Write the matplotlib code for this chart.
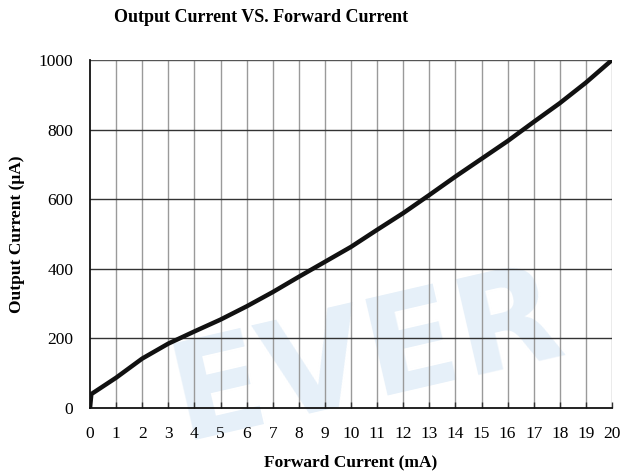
import matplotlib
matplotlib.use("Agg")
import matplotlib.pyplot as plt
import numpy as np

# Data
forward_current_mA = [0, 0.05, 1, 2, 3, 4, 5, 6, 7, 8, 9, 10, 11, 12, 13, 14, 15, 16, 17, 18, 19, 20]
output_current_uA = [0, 40, 87, 142, 185, 220, 254, 292, 333, 377, 420, 463, 512, 560, 612, 665, 716, 767, 822, 876, 935, 1000]
x_ticks = list(range(0, 21))
y_ticks = [0, 200, 400, 600, 800, 1000]

title = "Output Current VS. Forward Current"
xlabel = "Forward Current (mA)"
ylabel = "Output Current (\u03bcA)"

plt.rcParams['font.family'] = ['Liberation Serif', 'DejaVu Serif']

fig = plt.figure(figsize=(6.22, 4.75), dpi=100)
ax = fig.add_axes([90/622, 1 - 408/475, (612-90)/622, (408-60)/475])
ax.patch.set_alpha(0)

# Watermark
fig.text(0.59, 0.245, "EVER", fontsize=98, fontweight='bold', family='DejaVu Sans',
         color='#e6f0f9', rotation=13, ha='center', va='center', zorder=-1)

ax.set_xlim(0, 20)
ax.set_ylim(0, 1000)
ax.set_xticks(x_ticks)
ax.set_yticks(y_ticks)

for xv in x_ticks[1:]:
    ax.axvline(xv, color='#9a9a9a', lw=1.0, zorder=1)
for yv in y_ticks[1:]:
    ax.axhline(yv, color='#333333' if yv < 1000 else '#555555', lw=1.0, zorder=1.5)

ax.plot(forward_current_mA, output_current_uA, color='#111111', lw=3.2,
        solid_capstyle='butt', solid_joinstyle='round', zorder=3)

for s in ['top', 'right']:
    ax.spines[s].set_visible(False)
for s in ['left', 'bottom']:
    ax.spines[s].set_color('#111111')
    ax.spines[s].set_linewidth(1.3)

ax.tick_params(axis='x', direction='in', length=4, width=1, color='#333333',
               labelsize=12.5, pad=13)
ax.tick_params(axis='y', length=0, labelsize=12.5, pad=12)

ax.set_xlabel(xlabel, fontsize=12.5, fontweight='bold', labelpad=9)
fig.text(17/622, 1 - 234/475, ylabel, fontsize=12.5, fontweight='bold',
         rotation=90, ha='center', va='center')
fig.text(0.42, 0.964, title, fontsize=13, fontweight='bold', ha='center', va='center')

fig.savefig("out.png", dpi=100)
